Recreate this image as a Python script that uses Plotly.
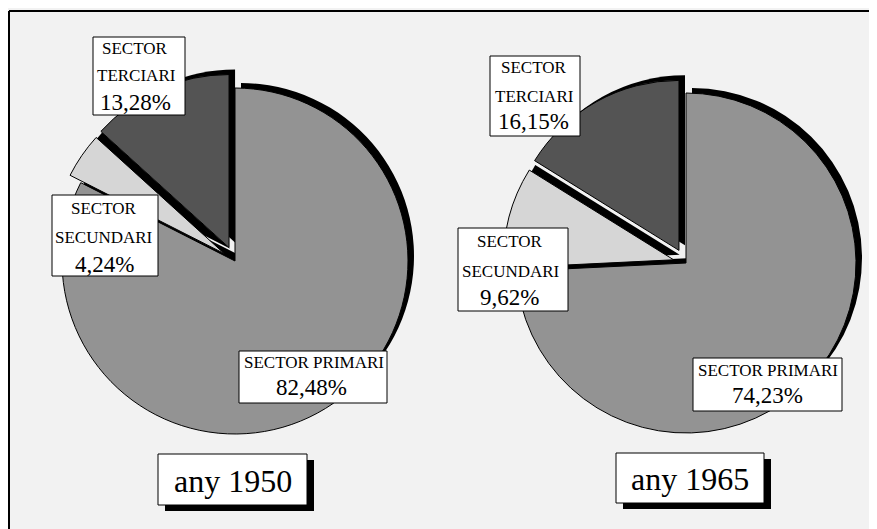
import plotly.graph_objects as go

# ---- data ----
sectors = ["SECTOR PRIMARI", "SECTOR SECUNDARI", "SECTOR TERCIARI"]
values_1950 = [82.48, 4.24, 13.28]
values_1965 = [74.23, 9.62, 16.15]
years = ["any 1950", "any 1965"]

# ---- style ----
OFF = 8  # page body margin
W, H = 877 - OFF, 529 - OFF
FONT = "Liberation Serif"
colors = ["#939393", "#d6d6d6", "#545454"]
pulls = [0, 0.075, 0.085]
SH_DX, SH_DY = 6, 5  # shadow offset (px, right / up)


def X(x):
    return (x - OFF) / W


def Y(y):
    return 1 - (y - OFF) / H


def domain(cx, cy, r, dx=0, dy=0):
    half = r * (1 + max(pulls))
    cx += dx
    cy -= dy
    x0, x1 = X(cx - half), X(cx + half)
    y0, y1 = Y(cy + half), Y(cy - half)
    return dict(x=[max(0, x0), min(1, x1)], y=[max(0, y0), min(1, y1)])


def fmt(v):
    return f"{v:.2f}".replace(".", ",") + "%"


pies = [
    dict(values=values_1950, cx=235, cy=261, r=173),
    dict(values=values_1965, cx=686, cy=263, r=170),
]

fig = go.Figure()
for p in pies:
    # shadow
    fig.add_trace(go.Pie(
        labels=sectors, values=p["values"], sort=False, direction="clockwise",
        rotation=0, pull=pulls, textinfo="none", hoverinfo="skip",
        showlegend=False,
        marker=dict(colors=["#000000"] * 3, line=dict(width=0)),
        domain=domain(p["cx"], p["cy"], p["r"], SH_DX, SH_DY),
    ))
    fig.add_trace(go.Pie(
        labels=sectors, values=p["values"], sort=False, direction="clockwise",
        rotation=0, pull=pulls, textinfo="none", hoverinfo="label+percent",
        showlegend=False,
        marker=dict(colors=colors, line=dict(color="#000000", width=1)),
        domain=domain(p["cx"], p["cy"], p["r"]),
    ))

shapes = []
annotations = []

# frame (left and top edges)
shapes.append(dict(type="line", xref="paper", yref="paper", x0=X(9), y0=Y(529), x1=X(9), y1=Y(11),
                   line=dict(color="black", width=2)))
shapes.append(dict(type="line", xref="paper", yref="paper", x0=X(9), y0=Y(11), x1=X(877), y1=Y(11),
                   line=dict(color="black", width=2)))


def box(x0, y0, x1, y1, fill="white", border=True):
    shapes.append(dict(type="rect", xref="paper", yref="paper", layer="above",
                       x0=X(x0), y0=Y(y1), x1=X(x1), y1=Y(y0), fillcolor=fill,
                       line=dict(color="black", width=1 if border else 0)))


def text(x, y, s, size):
    annotations.append(dict(xref="paper", yref="paper", x=X(x), y=Y(y), text=s,
                            showarrow=False, xanchor="center", yanchor="middle",
                            font=dict(family=FONT, size=size, color="black")))


LABEL = 17
PCT = 23

# label boxes: [primari, secundari, terciari] per pie
label_layout = [
    {  # 1950
        0: dict(box=(239, 351, 387, 403), lines=[(314, 362), (311, 387)]),
        1: dict(box=(52, 195, 158, 276), lines=[(104, 208), (104, 237), (104, 264)]),
        2: dict(box=(93, 37, 185, 115), lines=[(135, 48), (136, 76), (135, 102)]),
    },
    {  # 1965
        0: dict(box=(693, 358, 842, 411), lines=[(768, 370), (767, 395)]),
        1: dict(box=(458, 228, 568, 311), lines=[(510, 241), (511, 271), (509, 297)]),
        2: dict(box=(490, 56, 580, 136), lines=[(534, 68), (534, 97), (533, 122)]),
    },
]

for pi, p in enumerate(pies):
    for si, name in enumerate(sectors):
        lay = label_layout[pi][si]
        box(*lay["box"])
        if si == 0:
            parts = [name]
        else:
            parts = name.split(" ")
        for (lx, ly), s in zip(lay["lines"], parts + [fmt(p["values"][si])]):
            size = PCT if "%" in s else LABEL
            text(lx, ly, s, size)

# year boxes with drop shadow
year_boxes = [(158, 454, 307, 505), (616, 453, 764, 503)]
for (x0, y0, x1, y1), yr in zip(year_boxes, years):
    box(x0 + 7, y0 + 6, x1 + 7, y1 + 6, fill="black", border=False)
    box(x0, y0, x1, y1)
    text((x0 + x1) / 2, (y0 + y1) / 2 + 1, yr, 32)

fig.update_layout(
    width=W, height=H,
    margin=dict(l=0, r=0, t=0, b=0),
    paper_bgcolor="#f2f2f2",
    plot_bgcolor="#f2f2f2",
    shapes=shapes,
    annotations=annotations,
    showlegend=False,
)

fig.write_html("out.html")
